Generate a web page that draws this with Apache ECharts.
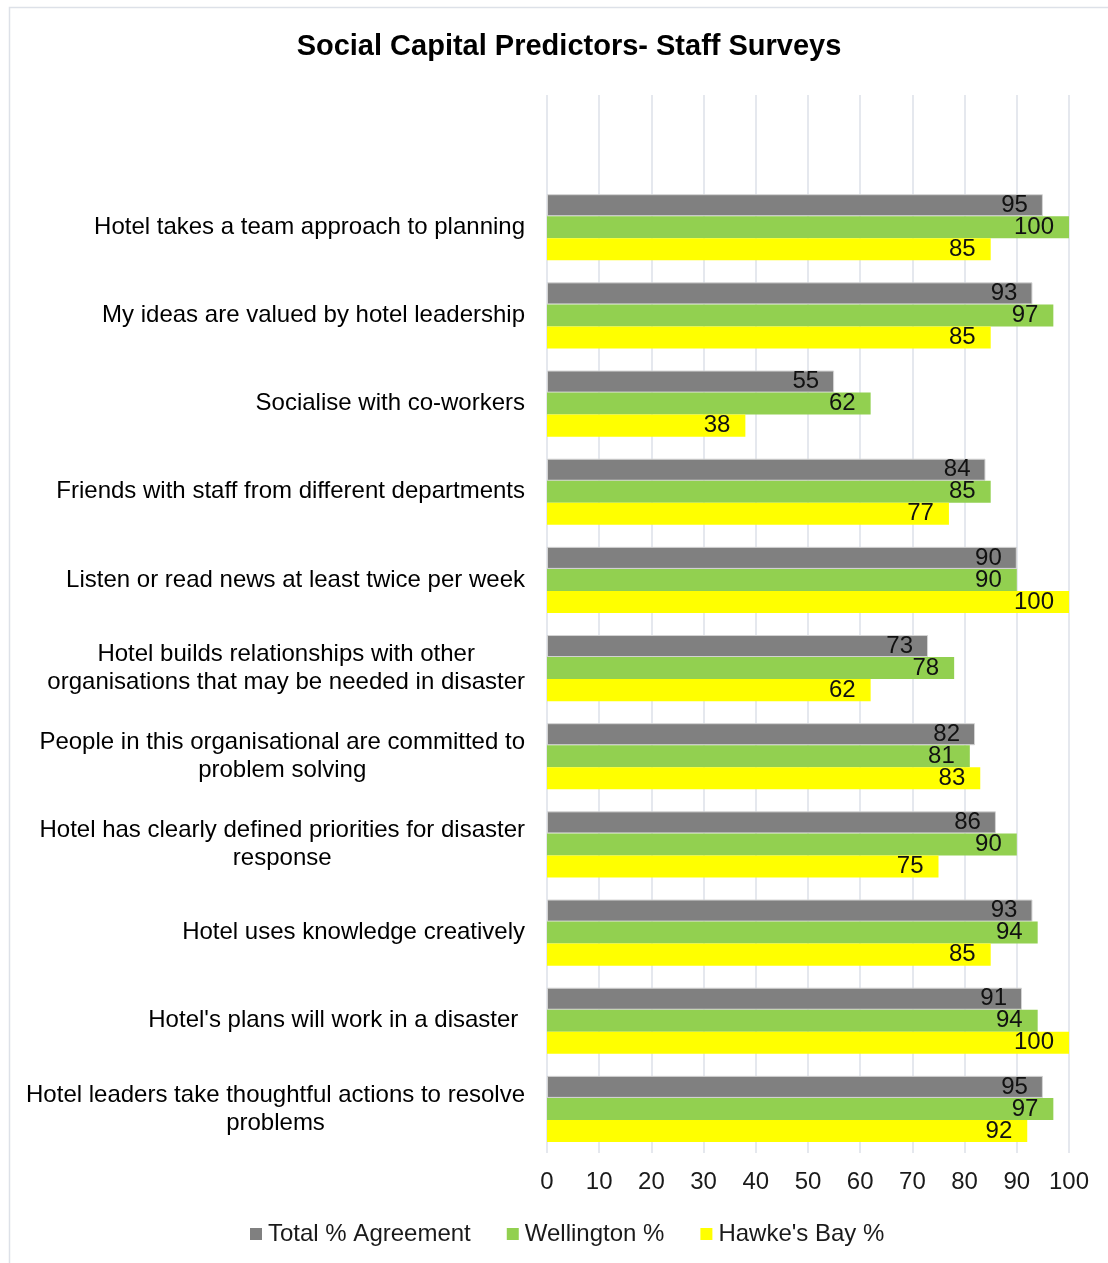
<!DOCTYPE html>
<html>
<head>
<meta charset="utf-8">
<title>Social Capital Predictors- Staff Surveys</title>
<script src="https://cdn.jsdelivr.net/npm/echarts@6/dist/echarts.min.js"></script>
<style>
  html, body { margin: 0; padding: 0; background: #ffffff; }
  #chart { width: 1108px; height: 1263px; }
</style>
</head>
<body>
<div id="chart"></div>
<script>
// Survey statements, top to bottom (the leading blank leaves headroom above the first group)
const categories = [
  '',
  'Hotel takes a team approach to planning',
  'My ideas are valued by hotel leadership',
  'Socialise with co-workers',
  'Friends with staff from different departments',
  'Listen or read news at least twice per week',
  'Hotel builds relationships with other\norganisations that may be needed in disaster',
  'People in this organisational are committed to\nproblem solving',
  'Hotel has clearly defined priorities for disaster\nresponse',
  'Hotel uses knowledge creatively',
  "Hotel's plans will work in a disaster ",
  'Hotel leaders take thoughtful actions to resolve\nproblems'
];

const seriesNames = ['Total % Agreement', 'Wellington %', "Hawke's Bay %"];

const totalAgreement = [null, 95, 93, 55, 84, 90, 73, 82, 86, 93, 91, 95];
const wellington     = [null, 100, 97, 62, 85, 90, 78, 81, 90, 94, 94, 97];
const hawkesBay      = [null, 85, 85, 38, 77, 100, 62, 83, 75, 85, 100, 92];

const xTicks = { min: 0, max: 100, interval: 10 };

const FONT = '"Liberation Sans", Arial, sans-serif';
const colors = ['#808080', '#92D050', '#FFFF00'];

const chart = echarts.init(document.getElementById('chart'), null, { renderer: 'canvas' });

function barSeries(name, data, color, extra) {
  return Object.assign({
    name: name,
    type: 'bar',
    data: data,
    barGap: '0%',
    barCategoryGap: '25%',
    itemStyle: { color: color },
    label: {
      show: true,
      position: 'insideRight',
      distance: 15,
      color: '#111111',
      fontFamily: FONT,
      fontSize: 24
    },
    emphasis: { disabled: true },
    animation: false
  }, extra || {});
}

chart.setOption({
  backgroundColor: '#ffffff',
  animation: false,
  textStyle: { fontFamily: FONT },
  title: {
    text: 'Social Capital Predictors- Staff Surveys',
    left: 564,
    textAlign: 'center',
    top: 27,
    textStyle: { fontFamily: FONT, fontSize: 29, fontWeight: 'bold', color: '#000000' }
  },
  graphic: [{
    type: 'rect',
    shape: { x: 9.5, y: 7.5, width: 1200, height: 1300 },
    style: { fill: 'none', stroke: '#dde1e8', lineWidth: 1.5 },
    silent: true,
    z: -1
  }],
  legend: {
    data: seriesNames.map(function (n, i) {
      return { name: n, itemStyle: { color: colors[i], borderWidth: 0 } };
    }),
    bottom: 17,
    left: 250,
    padding: 0,
    itemWidth: 12,
    itemHeight: 12,
    itemGap: 36,
    icon: 'rect',
    textStyle: { fontFamily: FONT, fontSize: 24, color: '#1a1a1a', padding: [0, 0, 0, 1] }
  },
  grid: { left: 547, right: 39, top: 95, bottom: 110, containLabel: false },
  xAxis: {
    type: 'value',
    min: xTicks.min,
    max: xTicks.max,
    interval: xTicks.interval,
    axisLine: { show: false },
    axisTick: { show: false },
    axisLabel: { fontFamily: FONT, fontSize: 24, color: '#1a1a1a', margin: 17 },
    splitLine: { show: true, lineStyle: { color: '#dde1e8', width: 1.5 } }
  },
  yAxis: {
    type: 'category',
    data: categories,
    inverse: true,
    axisLine: { show: false },
    axisTick: { show: false },
    axisLabel: {
      margin: 22,
      fontFamily: FONT,
      fontSize: 24,
      color: '#000000',
      lineHeight: 28,
      formatter: function (v) {
        return v.split('\n').map(function (s) { return '{c|' + s + '}'; }).join('\n');
      },
      rich: {
        c: { align: 'center', fontFamily: FONT, fontSize: 24, color: '#000000', lineHeight: 28 }
      }
    }
  },
  series: [
    barSeries(seriesNames[0], totalAgreement, colors[0], { itemStyle: { color: colors[0], borderColor: '#d4d4d4', borderWidth: 1 } }),
    barSeries(seriesNames[1], wellington, colors[1]),
    barSeries(seriesNames[2], hawkesBay, colors[2])
  ]
});
</script>
</body>
</html>
